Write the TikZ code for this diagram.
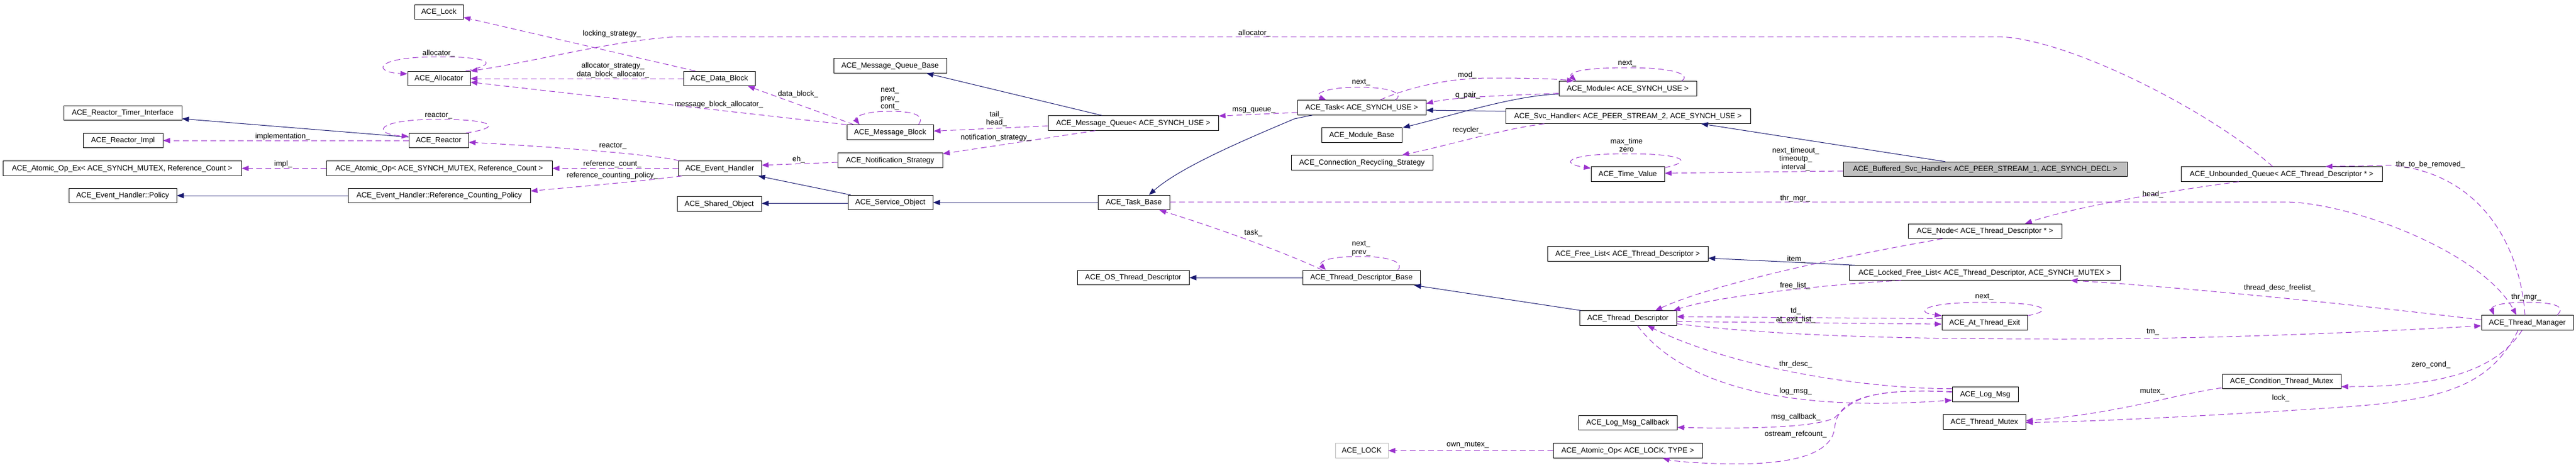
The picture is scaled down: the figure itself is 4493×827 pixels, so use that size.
\documentclass[tikz,border=0pt]{standalone}
\usepackage{fontspec}
\setmainfont{Liberation Sans}
\usetikzlibrary{arrows.meta}
\definecolor{edgeblue}{HTML}{191970}
\definecolor{edgepurple}{HTML}{9A32CD}
\definecolor{grayfill}{HTML}{BFBFBF}
\tikzset{
  box/.style={draw=black, line width=1pt, minimum height=25.5pt, inner sep=0pt, text height=9.5pt, text depth=2.5pt, anchor=center},
  lbl/.style={inner sep=0pt, align=center, anchor=center},
  inh/.style={draw=edgeblue, line width=1pt, -{Triangle[length=12pt,width=9pt]}},
  use/.style={draw=edgepurple, line width=1pt, dash pattern=on 10pt off 6pt, -{Triangle[length=12pt,width=9pt]}}
}
\begin{document}
\begin{tikzpicture}[x=1pt, y=-1pt, font=\fontsize{13}{14.5}\selectfont]
\useasboundingbox (0,0) rectangle (4493,827);
% nodes
\node[box,minimum width=85pt] (lock) at (765.5,21) {ACE\_Lock};
\node[box,minimum width=109pt] (alloc) at (765.5,137) {ACE\_Allocator};
\node[box,minimum width=206pt] (rti) at (214,197) {ACE\_Reactor\_Timer\_Interface};
\node[box,minimum width=139pt] (rimpl) at (214.5,245) {ACE\_Reactor\_Impl};
\node[box,minimum width=416pt] (aopex) at (213,293.5) {ACE\_Atomic\_Op\_Ex< ACE\_SYNCH\_MUTEX, Reference\_Count >};
\node[box,minimum width=188pt] (policy) at (214,341) {ACE\_Event\_Handler::Policy};
\node[box,minimum width=104pt] (reactor) at (765,245) {ACE\_Reactor};
\node[box,minimum width=394pt] (aop) at (766,293.5) {ACE\_Atomic\_Op< ACE\_SYNCH\_MUTEX, Reference\_Count >};
\node[box,minimum width=318pt] (rcp) at (766,341) {ACE\_Event\_Handler::Reference\_Counting\_Policy};
\node[box,minimum width=125pt] (datablock) at (1254.5,137) {ACE\_Data\_Block};
\node[box,minimum width=145pt] (eh) at (1255.5,293.5) {ACE\_Event\_Handler};
\node[box,minimum width=147pt] (so) at (1254.5,355.5) {ACE\_Shared\_Object};
\node[box,minimum width=197pt] (mqb) at (1552.5,114.5) {ACE\_Message\_Queue\_Base};
\node[box,minimum width=151pt] (mb) at (1552.5,230.5) {ACE\_Message\_Block};
\node[box,minimum width=183pt] (ns) at (1552.5,279.5) {ACE\_Notification\_Strategy};
\node[box,minimum width=148pt] (svcobj) at (1553,353) {ACE\_Service\_Object};
\node[box,minimum width=297pt] (mq) at (1976.5,214.5) {ACE\_Message\_Queue< ACE\_SYNCH\_USE >};
\node[box,minimum width=125pt] (tb) at (1977.5,353) {ACE\_Task\_Base};
\node[box,minimum width=195pt] (osdesc) at (1976.5,484) {ACE\_OS\_Thread\_Descriptor};
\node[box,minimum width=224pt] (task) at (2375,187.5) {ACE\_Task< ACE\_SYNCH\_USE >};
\node[box,minimum width=140pt] (modbase) at (2375,235.5) {ACE\_Module\_Base};
\node[box,minimum width=247pt] (crs) at (2375.5,283.5) {ACE\_Connection\_Recycling\_Strategy};
\node[box,minimum width=205pt] (tdb) at (2374.5,484) {ACE\_Thread\_Descriptor\_Base};
\node[box,draw=grayfill,minimum width=92pt] (aclock) at (2375,785.5) {ACE\_LOCK};
\node[box,minimum width=240pt] (module) at (2839,154.5) {ACE\_Module< ACE\_SYNCH\_USE >};
\node[box,minimum width=427pt] (svch) at (2839.5,202.5) {ACE\_Svc\_Handler< ACE\_PEER\_STREAM\_2, ACE\_SYNCH\_USE >};
\node[box,minimum width=128pt] (tv) at (2839,303.5) {ACE\_Time\_Value};
\node[box,minimum width=280pt] (freelist) at (2839,442.5) {ACE\_Free\_List< ACE\_Thread\_Descriptor >};
\node[box,minimum width=169pt] (td) at (2839.5,554.5) {ACE\_Thread\_Descriptor};
\node[box,minimum width=172pt] (lmcb) at (2839,737) {ACE\_Log\_Msg\_Callback};
\node[box,minimum width=260pt] (aoplock) at (2839,785.5) {ACE\_Atomic\_Op< ACE\_LOCK, TYPE >};
\node[box,fill=grayfill,minimum width=495pt] (bsh) at (3462.5,295) {ACE\_Buffered\_Svc\_Handler< ACE\_PEER\_STREAM\_1, ACE\_SYNCH\_DECL >};
\node[box,minimum width=268pt] (tdnode) at (3462,403) {ACE\_Node< ACE\_Thread\_Descriptor * >};
\node[box,minimum width=473pt] (lfl) at (3461.5,475.5) {ACE\_Locked\_Free\_List< ACE\_Thread\_Descriptor, ACE\_SYNCH\_MUTEX >};
\node[box,minimum width=149pt] (ate) at (3461.5,562.5) {ACE\_At\_Thread\_Exit};
\node[box,minimum width=115pt] (logmsg) at (3462.5,687.5) {ACE\_Log\_Msg};
\node[box,minimum width=144pt] (tmutex) at (3461,735.5) {ACE\_Thread\_Mutex};
\node[box,minimum width=351pt] (uq) at (3979.5,303.5) {ACE\_Unbounded\_Queue< ACE\_Thread\_Descriptor * >};
\node[box,minimum width=207pt] (ctm) at (3979.5,665) {ACE\_Condition\_Thread\_Mutex};
\node[box,minimum width=160pt] (tm) at (4408,562.5) {ACE\_Thread\_Manager};
% inheritance
\draw[inh] ([yshift=6pt]reactor.west) -- ([yshift=-10pt]rti.east);
\draw[inh] (rcp.west) -- (policy.east);
\draw[inh] ([xshift=5pt]svcobj.north west) -- ([xshift=-6pt]eh.south east);
\draw[inh] ([yshift=-1.5pt]svcobj.west) -- ([yshift=1pt]so.east);
\draw[inh] ([xshift=-54.5pt]mq.north) -- ([xshift=63.5pt]mqb.south);
\draw[inh] (tb.west) -- (svcobj.east);
\draw[inh] ([xshift=-86pt]task.south) -- (2258,207) .. controls (2180,240) and (2060,290) .. ([xshift=26.5pt]tb.north);
\draw[inh] ([yshift=8.5pt]svch.west) -- ([yshift=-4.5pt]task.east);
\draw[inh] ([yshift=-9.5pt]module.west) .. controls (2640,166) and (2520,205) .. ([xshift=72pt]modbase.north);
\draw[inh] ([xshift=-69.5pt]bsh.north) -- ([xshift=127.5pt]svch.south);
\draw[inh] (tdb.west) -- (osdesc.east);
\draw[inh] ([xshift=3pt]td.north west) -- ([xshift=-11pt]tdb.south east);
\draw[inh] ([xshift=11pt]lfl.north west) -- ([yshift=-7.5pt]freelist.east);
% usage
\draw[use] ([xshift=-8pt]alloc.north east) .. controls (870,112) and (860,99) .. (765,99) .. controls (650,99) and (650,126) .. ([yshift=-5pt]alloc.north west);
\draw[use] ([xshift=21pt]datablock.north west) -- ([yshift=4pt]lock.south east);
\draw[use] (datablock.west) -- (alloc.east);
\draw[use] (mb.north west) -- ([yshift=7pt]alloc.south east);
\draw[use] ([xshift=13pt]mb.north west) -- ([xshift=-13pt]datablock.south east);
\draw[use] ([xshift=49.5pt]mb.north) .. controls (1615,200) and (1590,194) .. (1552,194) .. controls (1505,194) and (1490,205) .. ([xshift=-53.5pt]mb.north);
\draw[use] ([yshift=-5pt]mq.west) -- ([yshift=2pt]mb.east);
\draw[use] ([xshift=-66pt]mq.south) -- ([yshift=11.5pt]ns.east);
\draw[use] ([yshift=-8.5pt]task.west) -- ([yshift=-1pt]mq.north east);
\draw[use] ([xshift=58pt]task.north) .. controls (2450,165) and (2430,152) .. (2370,152) .. controls (2310,152) and (2290,165) .. ([xshift=-62pt]task.north);
\draw[use] ([xshift=32pt]task.north) .. controls (2450,155) and (2520,136) .. (2600,136) .. controls (2680,136) and (2720,138) .. ([xshift=-94pt]module.north);
\draw[use] ([yshift=-8pt]module.west) .. controls (2650,166) and (2540,168) .. ([yshift=7pt]task.east);
\draw[use] ([xshift=94pt]module.north) .. controls (2950,130) and (2920,118) .. (2840,118) .. controls (2750,118) and (2735,128) .. ([xshift=-90pt]module.north);
\draw[use] ([xshift=-146pt]svch.south) .. controls (2620,225) and (2540,250) .. ([xshift=70pt]crs.north);
\draw[use] ([xshift=-5pt]reactor.north east) .. controls (880,222) and (860,208) .. (765,208) .. controls (650,208) and (650,234) .. ([yshift=-6pt]reactor.north west);
\draw[use] (reactor.west) -- (rimpl.east);
\draw[use] ([xshift=2pt]eh.north west) .. controls (1150,270) and (950,255) .. ([yshift=-3pt]reactor.east);
\draw[use] (eh.west) -- (aop.east);
\draw[use] ([xshift=7pt]eh.south west) .. controls (1100,318) and (1000,326) .. ([yshift=8pt]rcp.east);
\draw[use] (aop.west) -- (aopex.east);
\draw[use] ([yshift=-3.5pt]ns.west) -- ([yshift=5.5pt]eh.east);
\draw[use] ([yshift=1pt]tb.east) -- (3983,352) .. controls (4100,352) and (4330,440) .. ([xshift=-19pt]tm.north);
\draw[use] ([xshift=-4pt]tm.north) .. controls (4395,420) and (4320,300) .. (4170,288) -- ([xshift=76.5pt]uq.north);
\draw[use] ([xshift=-15.5pt]uq.north) .. controls (3850,190) and (3600,64) .. (3482,64) -- (1185,64) .. controls (1080,68) and (930,108) .. (alloc.north east);
\draw[use] ([xshift=-74.5pt]uq.south) .. controls (3800,330) and (3620,360) .. ([xshift=70pt]tdnode.north);
\draw[use] ([xshift=-74pt]tdnode.south) .. controls (3250,440) and (3000,490) .. ([xshift=47.5pt]td.north);
\draw[use] ([xshift=-145.5pt]lfl.south) .. controls (3200,495) and (3000,515) .. ([xshift=-6pt]td.north east);
\draw[use] ([yshift=7pt]ate.west) -- ([yshift=2.5pt]td.east);
\draw[use] ([yshift=-6pt]td.east) -- ([yshift=-2.5pt]ate.west);
\draw[use] ([yshift=-1pt]ate.north east) .. controls (3590,540) and (3560,527) .. (3460,527) .. controls (3350,527) and (3340,545) .. ([yshift=-1pt]ate.north west);
\draw[use] ([yshift=-2pt]tv.north east) .. controls (2960,280) and (2930,268) .. (2839,268) .. controls (2730,268) and (2720,285) .. ([yshift=-3pt]tv.north west);
\draw[use] ([xshift=63pt]tdb.north) .. controls (2450,460) and (2430,447) .. (2373,447) .. controls (2310,447) and (2300,458) .. ([xshift=-62pt]tdb.north);
\draw[use] ([xshift=-68pt]tdb.north) .. controls (2230,435) and (2100,390) .. ([xshift=44.5pt]tb.south);
\draw[use] ([yshift=-10pt]td.east) .. controls (3100,585) and (3300,591) .. (3600,591) .. controls (3900,591) and (4200,575) .. ([yshift=-5.5pt]tm.west);
\draw[use] ([yshift=10pt]logmsg.west) .. controls (3250,678) and (3020,640) .. ([xshift=34pt]td.south);
\draw[use] ([xshift=16.5pt]td.south) .. controls (2930,665) and (3100,720) .. ([yshift=-10pt]logmsg.west);
\draw[use] ([yshift=4pt]logmsg.west) .. controls (3250,675) and (3230,700) .. (3200,728) .. controls (3170,745) and (3050,748) .. ([yshift=-8pt]lmcb.east);
\draw[use] ([yshift=5pt]logmsg.west) .. controls (3250,676) and (3205,700) .. (3200,745) .. controls (3195,800) and (3100,812) .. (2990,808) .. controls (2940,806) and (2915,803) .. ([xshift=61pt]aoplock.south);
\draw[use] ([yshift=-11pt]ctm.west) .. controls (3780,690) and (3700,720) .. ([yshift=2pt]tmutex.east);
\draw[use] ([xshift=-16pt]tm.south) .. controls (4340,680) and (4250,700) .. (4050,712) .. controls (3850,725) and (3650,735) .. ([yshift=-1pt]tmutex.east);
\draw[use] ([xshift=-9pt]tm.south) .. controls (4350,650) and (4250,674) .. ([yshift=-9pt]ctm.east);
\draw[use] ([yshift=5pt]tm.west) .. controls (4100,530) and (3800,500) .. ([xshift=150pt]lfl.south);
\draw[use] ([yshift=-3pt]bsh.west) -- ([yshift=1.5pt]tv.east);
\draw[use] (aoplock.west) -- (aclock.east);
\draw[use] ([xshift=52pt]tm.north) .. controls (4475,535) and (4460,527) .. (4405,527) .. controls (4350,527) and (4345,537) .. ([xshift=-58pt]tm.north);
% labels
\node[lbl] (l_alloc_self) at (765,93) {allocator\_};
\node[lbl] (l_lockstrat) at (1067,59) {locking\_strategy\_};
\node[lbl] (l_allocstrat) at (1069,122.5) {allocator\_strategy\_\\data\_block\_allocator\_};
\node[lbl] (l_datablock) at (1392,164) {data\_block\_};
\node[lbl] (l_mballoc) at (1254,182) {message\_block\_allocator\_};
\node[lbl] (l_reactor_self) at (765,202) {reactor\_};
\node[lbl] (l_impl_r) at (493,238) {implementation\_};
\node[lbl] (l_reactor) at (1069,255) {reactor\_};
\node[lbl] (l_impl) at (494,286) {impl\_};
\node[lbl] (l_refcount) at (1068,286) {reference\_count\_};
\node[lbl] (l_refpol) at (1068,306) {reference\_counting\_policy\_};
\node[lbl] (l_eh) at (1393,278) {eh\_};
\node[lbl] (l_mbself) at (1552,172.5) {next\_\\prev\_\\cont\_};
\node[lbl] (l_tailhead) at (1738,207) {tail\_\\head\_};
\node[lbl] (l_notif) at (1737,240) {notification\_strategy\_};
\node[lbl] (l_alloc_long) at (2188,58) {allocator\_};
\node[lbl] (l_msgq) at (2187,192) {msg\_queue\_};
\node[lbl] (l_task) at (2186,406) {task\_};
\node[lbl] (l_taskself) at (2374,144) {next\_};
\node[lbl] (l_mod) at (2559,131) {mod\_};
\node[lbl] (l_qpair) at (2560,166) {q\_pair\_};
\node[lbl] (l_modself) at (2838,111) {next\_};
\node[lbl] (l_recycler) at (2560,227) {recycler\_};
\node[lbl] (l_tvself) at (2837,253) {max\_time\\zero};
\node[lbl] (l_tdbself) at (2374,433) {next\_\\prev\_};
\node[lbl] (l_ownmutex) at (2560,776) {own\_mutex\_};
\node[lbl] (l_timeout) at (3132,277.5) {next\_timeout\_\\timeoutp\_\\interval\_};
\node[lbl] (l_thrmgr) at (3131,346) {thr\_mgr\_};
\node[lbl] (l_item) at (3133,452) {item\_};
\node[lbl] (l_freelist) at (3131,498) {free\_list\_};
\node[lbl] (l_ateself) at (3461,518) {next\_};
\node[lbl] (l_td) at (3132,542) {td\_};
\node[lbl] (l_atexit) at (3132,557) {at\_exit\_list\_};
\node[lbl] (l_thrdesc) at (3132,635) {thr\_desc\_};
\node[lbl] (l_logmsg) at (3132,682) {log\_msg\_};
\node[lbl] (l_msgcb) at (3132,727) {msg\_callback\_};
\node[lbl] (l_ostream) at (3132,757) {ostream\_refcount\_};
\node[lbl] (l_thrtbr) at (4239,287) {thr\_to\_be\_removed\_};
\node[lbl] (l_head) at (3755,339) {head\_};
\node[lbl] (l_tdfl) at (3976,502) {thread\_desc\_freelist\_};
\node[lbl] (l_tmself) at (4406,518) {thr\_mgr\_};
\node[lbl] (l_tm) at (3755,579) {tm\_};
\node[lbl] (l_zerocond) at (4240,636) {zero\_cond\_};
\node[lbl] (l_mutex) at (3754,683) {mutex\_};
\node[lbl] (l_lock) at (3978,694) {lock\_};
\end{tikzpicture}
\end{document}
